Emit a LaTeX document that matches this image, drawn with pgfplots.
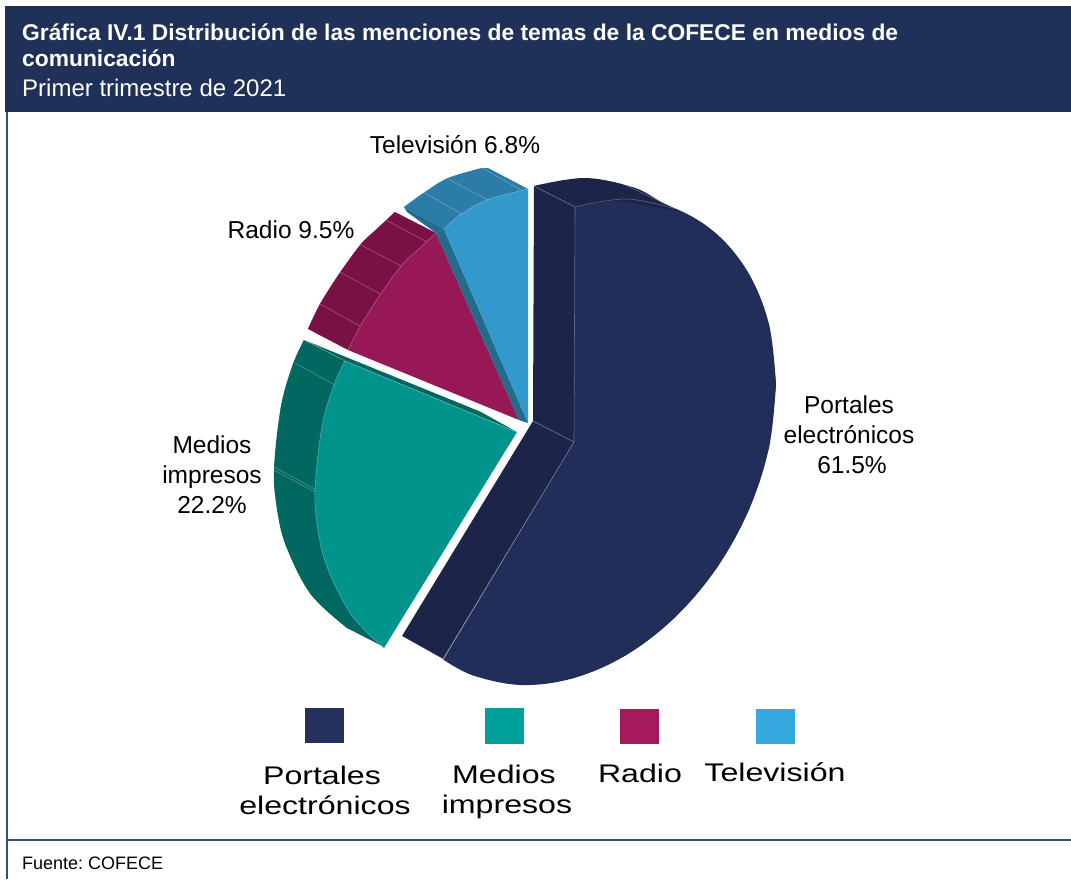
\documentclass[border=0pt]{standalone}
\usepackage{fontspec}
\setmainfont{Liberation Sans}
\usepackage{pgfplots}
\pgfplotsset{compat=1.18}
\frenchspacing
\definecolor{band}{HTML}{1F3158}
\definecolor{frame}{HTML}{34507E}
\definecolor{navyT}{HTML}{212E5A}
\definecolor{navyS}{HTML}{1D2449}
\definecolor{tealT}{HTML}{00948C}
\definecolor{tealS}{HTML}{00685F}
\definecolor{magT}{HTML}{971856}
\definecolor{magS}{HTML}{7A1144}
\definecolor{bluT}{HTML}{3399CC}
\definecolor{bluS}{HTML}{2B7CA6}
\definecolor{bluE}{HTML}{236B8D}
\definecolor{legN}{HTML}{24305E}
\definecolor{legT}{HTML}{00A19A}
\definecolor{legM}{HTML}{A41A5C}
\definecolor{legB}{HTML}{36A9E1}
\newcommand{\lab}[1]{\fontsize{24.5}{30}\selectfont #1}
\newcommand{\leg}[1]{\scalebox{1.26}[1]{\fontsize{25.5}{30}\selectfont #1}}
\pgfplotsset{
  sh/.style={fill=#1,draw=none,no markers,forget plot},
  arc/.style={fill=#1,draw=none,no markers,forget plot,smooth,tension=0.6},
  edge/.style={draw=white,draw opacity=0.3,line width=0.6pt,no markers,forget plot},
  edges/.style={draw=white,draw opacity=0.3,line width=0.6pt,no markers,forget plot,smooth,tension=0.6},
}
\begin{document}
\begin{tikzpicture}
\begin{axis}[
  width=1071pt,height=879pt,scale only axis,
  xmin=0,xmax=1071,ymin=0,ymax=879,y dir=reverse,
  hide axis,clip=false]
% page
\addplot[sh=white] coordinates {(0,0)(1071,0)(1071,879)(0,879)};
% frame and title band
\addplot[sh=band] coordinates {(5,6)(1071,6)(1071,112)(5,112)};
\addplot[sh=frame] coordinates {(5.5,112)(7.5,112)(7.5,879)(5.5,879)};
\addplot[sh=frame] coordinates {(5.5,838.6)(1071,838.6)(1071,840.6)(5.5,840.6)};
% navy: top
\addplot[arc=navyT] coordinates {(574,206)(626,199)(675,208.6)(716.8,234.1)(748.9,273.8)(769.1,324.9)(776,384)};
\addplot[arc=navyT] coordinates {(776,384)(769.1,447.1)(748.9,509.8)(716.8,567.9)(675,617.4)(626.3,655)(574,678)(521.7,685)(473,675.4)(443.3,659.5)};
\addplot[sh=navyT] coordinates {(574,206)(626,199)(675,208.6)(716.8,234.1)(748.9,273.8)(769.1,324.9)(776,384)(769.1,447.1)(748.9,509.8)(716.8,567.9)(675,617.4)(626.3,655)(574,678)(521.7,685)(473,675.4)(443.3,659.5)(574,442)};
% navy: sides
\addplot[arc=navyS] coordinates {(534,186)(585,178)(634,187.6)(662.8,202.9)(683,212)};
\addplot[sh=navyS] coordinates {(534,186)(585,178)(634,187.6)(662.8,202.9)(683,212)(653,202)(620,200)(575,207)};
\addplot[sh=navyS] coordinates {(534,186)(575,207)(574,442)(533,421)};
\addplot[sh=navyS] coordinates {(533,421)(574,442)(443,659)(402,636)};
\addplot[edges] coordinates {(575,207)(626,199)(675,208.6)};
\addplot[edge] coordinates {(534,186)(575,207)};
\addplot[edge] coordinates {(623,184)(683,212)};
\addplot[edge] coordinates {(575,207)(574,442)(443,659)(402,636)};
\addplot[edge] coordinates {(533,421)(574,442)};
% teal
\addplot[arc=tealS] coordinates {(347,628)(310.5,594)(286,546)(277,509)(274,469)(281,406)(293,364)(304,340)};
\addplot[sh=tealS] coordinates {(304,340)(345,361)(384,647)(347,628)(310.5,594)(286,546)(277,509)(274,469)(281,406)(293,364)};
\addplot[sh=tealS] coordinates {(304,340)(480,411.5)(517,432)(345,361)};
\addplot[arc=tealT] coordinates {(384,648)(351.5,615)(327.1,567)(318,530)(315,490)(321.9,427)(334,384.8)(345,361)};
\addplot[sh=tealT] coordinates {(345,361)(517,432)(384,648)(351.5,615)(327.1,567)(318,530)(315,490)(321.9,427)(334,384.8)};
\addplot[edges] coordinates {(384,648)(351.5,615)(327.1,567)(318,530)(315,490)(321.9,427)(334,384.8)(345,361)};
\addplot[edge] coordinates {(295,363)(335,385)};
\addplot[edge] coordinates {(274,467)(315,489)};
\addplot[edge] coordinates {(274,470)(315,492)};
\addplot[edge] coordinates {(304,340)(345,361)(517,432)};
% magenta
\addplot[arc=magS] coordinates {(395,212)(379,227)(361,244)(339,274)(320,304)(308,329)};
\addplot[sh=magS] coordinates {(395,212)(436,233)(348,350)(308,329)(320,304)(339,274)(361,244)(379,227)};
\addplot[arc=magT] coordinates {(436,233)(420,248)(402,265)(380,295)(361,325)(348,350)};
\addplot[sh=magT] coordinates {(436,233)(519,420)(348,350)(361,325)(380,295)(402,265)(420,248)};
\addplot[edges] coordinates {(436,233)(420,248)(402,265)(380,295)(361,325)(348,350)};
\addplot[edge] coordinates {(386,220)(427,242)};
\addplot[edge] coordinates {(361,245)(401,266)};
\addplot[edge] coordinates {(340,272)(380,294)};
\addplot[edge] coordinates {(320,304)(360,326)};
% blue
\addplot[arc=bluS] coordinates {(404,207)(425,192)(448,178)(482,168)};
\addplot[sh=bluS] coordinates {(404,207)(425,192)(448,178)(482,168)(488,168)(528,189)(444,229)};
\addplot[sh=bluE] coordinates {(404,207)(444,229)(436,233)(407,212)};
\addplot[sh=bluE] coordinates {(436,233)(444,229)(528,423)(519,420)};
\addplot[arc=bluT] coordinates {(528,189)(487,200)(460,215)(444,229)};
\addplot[sh=bluT] coordinates {(528,189)(528,423)(444,229)(460,215)(487,200)};
\addplot[edges] coordinates {(528,189)(487,200)(460,215)(444,229)};
\addplot[edge] coordinates {(423,192)(462,214)};
\addplot[edge] coordinates {(448,179)(488,200)};
\addplot[edge] coordinates {(482,168)(521,190)};
% legend keys
\addplot[sh=legN] coordinates {(305,708)(344,708)(344,743)(305,743)};
\addplot[sh=legT] coordinates {(485,708)(524,708)(524,744)(485,744)};
\addplot[sh=legM] coordinates {(620,709)(659,709)(659,744)(620,744)};
\addplot[sh=legB] coordinates {(756,709)(795,709)(795,744)(756,744)};
% titles
\node[anchor=base west,text=white,inner sep=0pt,font=\fontsize{22.8}{24}\selectfont\bfseries] at (axis cs:22,40) {Gráfica IV.1 Distribución de las menciones de temas de la COFECE en medios de};
\node[anchor=base west,text=white,inner sep=0pt,font=\fontsize{22.8}{24}\selectfont\bfseries] at (axis cs:22,66) {comunicación};
\node[anchor=base west,text=white,inner sep=0pt,font=\fontsize{24}{26}\selectfont] at (axis cs:22,96) {Primer trimestre de 2021};
\node[anchor=base west,text=black,inner sep=0pt,font=\fontsize{18}{20}\selectfont] at (axis cs:22,869) {Fuente: COFECE};
% pie labels
\node[anchor=base,inner sep=0pt] at (axis cs:455,153) {\lab{Televisión 6.8\%}};
\node[anchor=base,inner sep=0pt] at (axis cs:291,238) {\lab{Radio 9.5\%}};
\node[anchor=base,inner sep=0pt] at (axis cs:849,413) {\lab{Portales}};
\node[anchor=base,inner sep=0pt] at (axis cs:849,443) {\lab{electrónicos}};
\node[anchor=base,inner sep=0pt] at (axis cs:852,473) {\lab{61.5\%}};
\node[anchor=base,inner sep=0pt] at (axis cs:212,453) {\lab{Medios}};
\node[anchor=base,inner sep=0pt] at (axis cs:212,483) {\lab{impresos}};
\node[anchor=base,inner sep=0pt] at (axis cs:212,513) {\lab{22.2\%}};
% legend labels
\node[anchor=base,inner sep=0pt] at (axis cs:322,784) {\leg{Portales}};
\node[anchor=base,inner sep=0pt] at (axis cs:325,814) {\leg{electrónicos}};
\node[anchor=base,inner sep=0pt] at (axis cs:504,783) {\leg{Medios}};
\node[anchor=base,inner sep=0pt] at (axis cs:507,813) {\leg{impresos}};
\node[anchor=base,inner sep=0pt] at (axis cs:640,782) {\leg{Radio}};
\node[anchor=base,inner sep=0pt] at (axis cs:775,781) {\leg{Televisión}};
\end{axis}
\end{tikzpicture}
\end{document}
